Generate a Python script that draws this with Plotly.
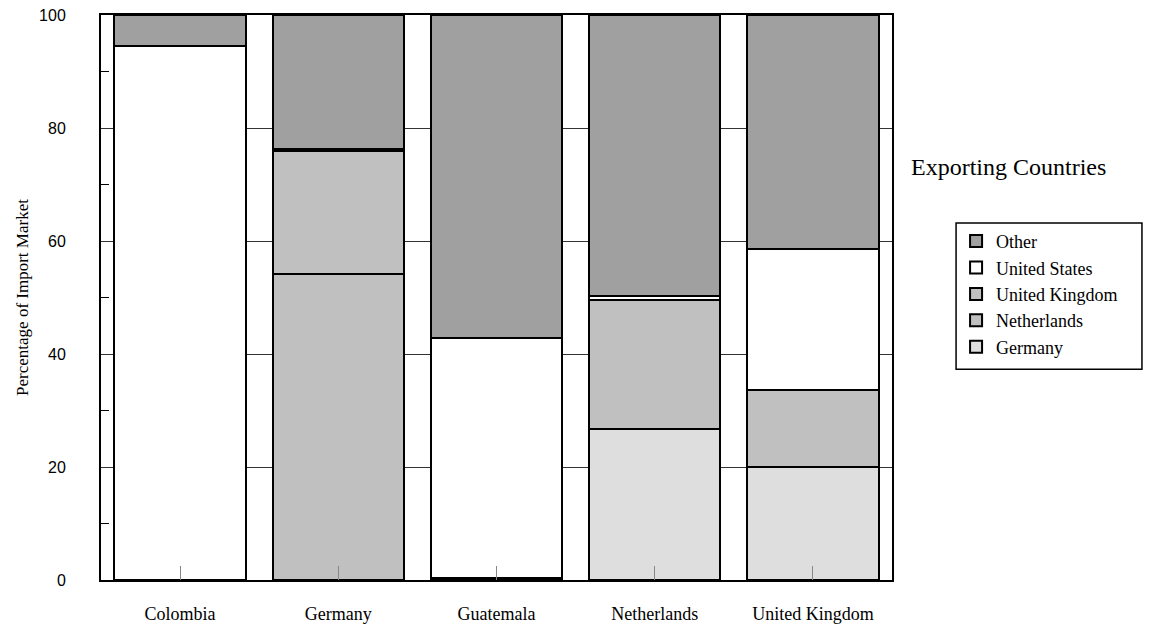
import plotly.graph_objects as go

importers = ["Colombia", "Germany", "Guatemala", "Netherlands", "United Kingdom"]
germany = [0.0, 0.0, 0.2, 26.7, 20.0]
netherlands = [0.0, 54.2, 0.1, 0.0, 13.7]
united_kingdom = [0.0, 21.8, 0.0, 22.9, 0.0]
united_states = [94.5, 0.3, 42.5, 0.7, 24.8]
other = [5.5, 23.7, 57.2, 49.7, 41.5]

series = [
    ("Germany", germany, "#dedede"),
    ("Netherlands", netherlands, "#c0c0c0"),
    ("United Kingdom", united_kingdom, "#c0c0c0"),
    ("United States", united_states, "#ffffff"),
    ("Other", other, "#a0a0a0"),
]

serif = "Liberation Serif, Times New Roman, serif"
sans = "Liberation Sans, Arial, sans-serif"

fig = go.Figure()
for name, vals, col in series:
    fig.add_trace(go.Bar(
        x=importers, y=vals, name=name,
        marker=dict(color=col, line=dict(color="black", width=2)),
    ))

fig.update_layout(
    barmode="stack",
    bargap=0.17,
    width=1151, height=628,
    margin=dict(l=93, r=267, t=7, b=56, autoexpand=False),
    plot_bgcolor="white", paper_bgcolor="white",
    showlegend=True,
    legend=dict(
        traceorder="reversed",
        x=1.081, y=0.632, xanchor="left", yanchor="top",
        bgcolor="rgba(0,0,0,0)", borderwidth=0,
        font=dict(family=serif, size=18, color="black"),
        tracegroupgap=0,
    ),
    annotations=[dict(
        text="Exporting Countries", xref="paper", yref="paper",
        x=1.021, y=0.731, xanchor="left", yanchor="middle", showarrow=False,
        font=dict(family=serif, size=24, color="black"),
    )],
    shapes=[dict(
        type="rect", xref="paper", yref="paper",
        x0=1.081, x1=1.316, y0=0.373, y1=0.632,
        line=dict(color="black", width=1.5), fillcolor="rgba(0,0,0,0)",
    )],
)

fig.update_xaxes(
    range=[-0.5, 4.5], automargin=False,
    showline=True, linecolor="black", linewidth=2, mirror=True,
    ticks="inside", ticklen=14, tickcolor="#888888", tickwidth=1,
    tickfont=dict(family=serif, size=18, color="black"),
    ticklabelstandoff=16,
    showgrid=False,
)
fig.update_yaxes(
    range=[0, 100], automargin=False,
    tickvals=[0, 20, 40, 60, 80, 100],
    ticklabeloverflow="allow",
    showline=True, linecolor="black", linewidth=2, mirror=True,
    showgrid=True, gridcolor="#333333", gridwidth=1,
    ticks="", ticklabelstandoff=30,
    tickfont=dict(family=sans, size=16, color="black"),
    minor=dict(tickvals=[10, 30, 50, 70, 90], ticks="inside", ticklen=8,
               tickcolor="black", tickwidth=1, showgrid=False),
    title=dict(text="Percentage of Import Market", standoff=6,
               font=dict(family=serif, size=17, color="black")),
    zeroline=False,
)

fig.write_html("out.html")
